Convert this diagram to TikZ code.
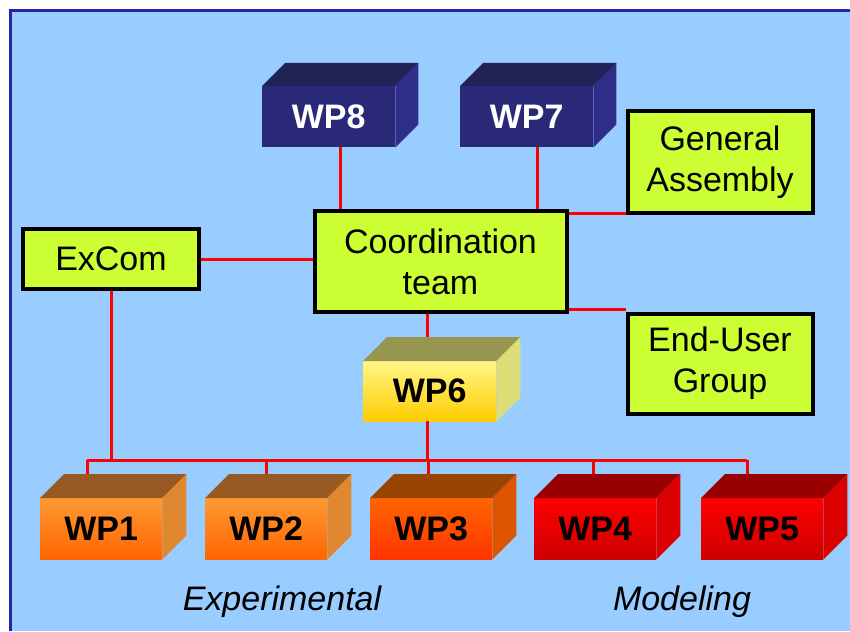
\documentclass[tikz,border=0pt]{standalone}
\usepackage{fontspec}
\setmainfont{Liberation Sans}
\definecolor{bgblue}{HTML}{99CCFF}
\definecolor{frameblue}{HTML}{2424A8}
\definecolor{boxgreen}{HTML}{CCFF33}
\definecolor{navyfront}{HTML}{292978}
\definecolor{navytop}{HTML}{222256}
\definecolor{navyside}{HTML}{2E2E8A}
\definecolor{ylwtopc}{HTML}{FFF685}
\definecolor{ylwbotc}{HTML}{FFCC00}
\definecolor{ylwlid}{HTML}{969650}
\definecolor{ylwside}{HTML}{DDDD77}
\definecolor{orgtopc}{HTML}{FF9933}
\definecolor{orgbotc}{HTML}{FF6600}
\definecolor{orglid}{HTML}{965A22}
\definecolor{orgside}{HTML}{E08830}
\definecolor{o3topc}{HTML}{FF6600}
\definecolor{o3botc}{HTML}{FF3300}
\definecolor{o3lid}{HTML}{994400}
\definecolor{o3side}{HTML}{DD5500}
\definecolor{redtopc}{HTML}{FF0000}
\definecolor{redbotc}{HTML}{CC0000}
\definecolor{redlid}{HTML}{990000}
\definecolor{redside}{HTML}{DD0000}
\newcommand\cubefaces[4]{%
  \fill[#3] (#1.north west) -- ++(#2,-#2) -- ([shift={(#2,-#2)}]#1.north east) -- (#1.north east) -- cycle;
  \fill[#4] (#1.north east) -- ++(#2,-#2) -- ([shift={(#2,-#2)}]#1.south east) -- (#1.south east) -- cycle;
}
\begin{document}
\begin{tikzpicture}[x=1pt,y=-1pt,
  box/.style={draw=black, line width=4pt, fill=boxgreen, align=center, inner sep=0pt,
    anchor=north west, font=\fontsize{34}{41}\selectfont},
  cube/.style={anchor=north west, inner sep=0pt, minimum width=122pt, minimum height=61pt,
    font=\bfseries\fontsize{34}{34}\selectfont},
  link/.style={draw=red, line width=3pt},
  caption/.style={anchor=base, font=\itshape\fontsize{34}{34}\selectfont}]
\useasboundingbox (0,0) rectangle (850,631);
\fill[white] (0,0) rectangle (850,631);
\fill[bgblue] (9,9) rectangle (850,631);
\draw[frameblue, line width=3pt] (10.5,631) -- (10.5,10.5) -- (850,10.5);

% boxes
\node[box, minimum width=176pt, minimum height=60pt] (excom) at (21,227) {ExCom};
\node[box, minimum width=252pt, minimum height=101pt] (coord) at (312.5,209) {Coordination\\team};
\node[box, minimum width=185pt, minimum height=101pt] (ga) at (625.5,109.5) {General\\Assembly};
\node[box, minimum width=185pt, minimum height=100pt] (eug) at (625.5,311.5) {End-User\\Group};

% cube fronts
\node[cube, minimum width=133pt, fill=navyfront, text=white] (wp8) at (262,86) {WP8};
\node[cube, minimum width=133pt, fill=navyfront, text=white] (wp7) at (460,86) {WP7};
\node[cube, minimum width=133pt, minimum height=60pt, top color=ylwtopc, bottom color=ylwbotc] (wp6) at (363,361) {WP6};
\node[cube, top color=orgtopc, bottom color=orgbotc] (wp1) at (40,498) {WP1};
\node[cube, top color=orgtopc, bottom color=orgbotc] (wp2) at (205,498) {WP2};
\node[cube, top color=o3topc, bottom color=o3botc] (wp3) at (370,498) {WP3};
\node[cube, top color=redtopc, bottom color=redbotc] (wp4) at (534,498) {WP4};
\node[cube, top color=redtopc, bottom color=redbotc] (wp5) at (701,498) {WP5};

% connectors
\coordinate (bus) at (0,460);
\draw[link] ([xshift=78pt]wp8.south west) -- ([xshift=78pt]wp8.south west |- coord.north);
\draw[link] ([xshift=77pt]wp7.south west) -- ([xshift=77pt]wp7.south west |- coord.north);
\draw[link] ([yshift=1.5pt]ga.south west) -- ([yshift=1.5pt]ga.south west -| coord.east);
\draw[link] ([yshift=2.5pt]eug.north west) -- ([yshift=2.5pt]eug.north west -| coord.east);
\draw[link] (excom.east) -- (excom.east -| coord.west);
\draw[link] (excom.south) -- (excom.south |- bus);
\draw[link] ([xshift=-2pt]wp6.north) -- ([xshift=-2pt]wp6.north |- coord.south);
\draw[link] ([xshift=-2pt]wp6.south) -- ([xshift=-2pt]wp6.south |- bus);
\draw[link] ([xshift=47pt]wp1.north west |- bus) -- ([xshift=46pt]wp5.north west |- bus);
\draw[link] ([xshift=47pt]wp1.north west |- bus) -- ([xshift=47pt]wp1.north west);
\draw[link] ([xshift=61pt]wp2.north west |- bus) -- ([xshift=61pt]wp2.north west);
\draw[link] ([xshift=58pt]wp3.north west |- bus) -- ([xshift=58pt]wp3.north west);
\draw[link] ([xshift=59pt]wp4.north west |- bus) -- ([xshift=59pt]wp4.north west);
\draw[link] ([xshift=46pt]wp5.north west |- bus) -- ([xshift=46pt]wp5.north west);

% cube lids and sides
\cubefaces{wp8}{23}{navytop}{navyside}
\cubefaces{wp7}{23}{navytop}{navyside}
\cubefaces{wp6}{24}{ylwlid}{ylwside}
\cubefaces{wp1}{24}{orglid}{orgside}
\cubefaces{wp2}{24}{orglid}{orgside}
\cubefaces{wp3}{24}{o3lid}{o3side}
\cubefaces{wp4}{24}{redlid}{redside}
\cubefaces{wp5}{24}{redlid}{redside}

% captions
\node[caption] (exp) at (282,610) {Experimental};
\node[caption] (mod) at (682,610) {Modeling};
\end{tikzpicture}
\end{document}
